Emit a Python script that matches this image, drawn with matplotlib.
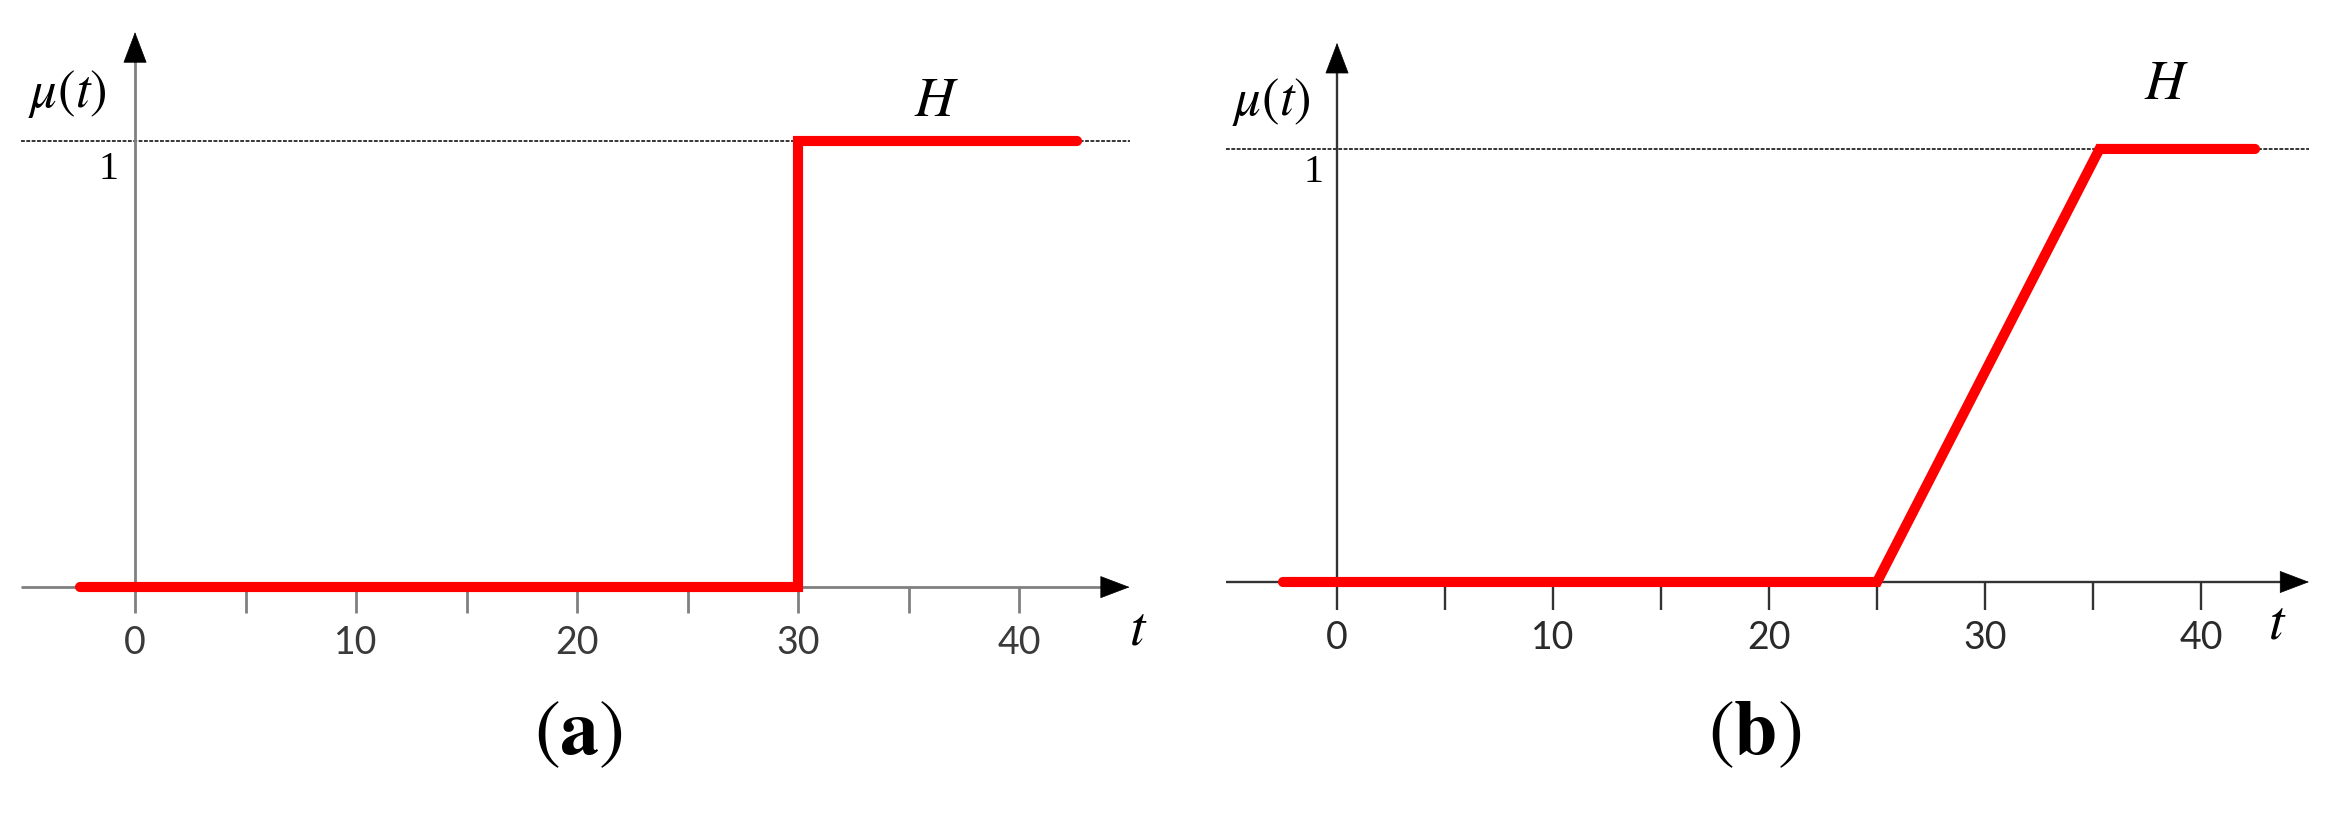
import matplotlib
matplotlib.use('Agg')
import matplotlib.pyplot as plt

plt.rcParams['mathtext.fontset'] = 'stix'

# ---- data ----
t_a = [-2.5, 30, 30, 42.6]
mu_a = [0, 0, 1, 1]
t_b = [-2.5, 25, 35.3, 42.5]
mu_b = [0, 0, 1, 1]
tick_vals = [0, 5, 10, 15, 20, 25, 30, 35, 40]
tick_labels = ['0', '', '10', '', '20', '', '30', '', '40']
panel_labels = ['a', 'b']

fig = plt.figure(figsize=(23.44, 8.25), dpi=100)


def panel(rect, xlim, ylim, t, mu, axis_col, lab_col, axis_lw, tick_len,
          h_pos, mu_pos, one_pos, tlab_pos, ticklab_y, ytip):
    ax = fig.add_axes(rect)
    ax.set_xlim(*xlim)
    ax.set_ylim(*ylim)
    ax.axis('off')
    x0, x1 = -5.15, 45.0
    # dotted level line at 1
    ax.plot([x0, x1], [1, 1], color='black', lw=1.1, ls=(0, (2.5, 1.0)), zorder=1)
    # x axis line + arrow head
    ax.plot([x0, x1 - 1.0], [0, 0], color=axis_col, lw=axis_lw,
            solid_capstyle='butt', zorder=2)
    ax.annotate('', xy=(x1, 0), xytext=(x1 - 1.3, 0),
                arrowprops=dict(arrowstyle='-|>,head_length=1.0,head_width=0.38',
                                mutation_scale=20, color='black', lw=0.5,
                                shrinkA=0, shrinkB=0), zorder=3)
    # y axis line + arrow head
    ax.plot([0, 0], [0, ytip - 0.05], color=axis_col, lw=axis_lw,
            solid_capstyle='butt', zorder=2)
    ax.annotate('', xy=(0, ytip), xytext=(0, ytip - 0.068),
                arrowprops=dict(arrowstyle='-|>,head_length=1.0,head_width=0.38',
                                mutation_scale=21, color='black', lw=0.5,
                                shrinkA=0, shrinkB=0), zorder=3)
    # ticks
    ax.vlines(tick_vals, -tick_len, 0, color=axis_col, lw=axis_lw, zorder=2)
    for tv, tl in zip(tick_vals, tick_labels):
        if tl:
            ax.text(tv, ticklab_y, tl, ha='center', va='center', fontsize=27,
                    family='Lato', color=lab_col)
    # membership function
    ax.plot(t, mu, color='#ff0000', lw=7.3, solid_capstyle='round',
            solid_joinstyle='miter', zorder=4)
    # labels
    ax.text(*h_pos, r'$H$', ha='center', va='center', fontsize=40)
    ax.text(*mu_pos, r'$\mu(t)$', ha='center', va='center', fontsize=38)
    ax.text(*one_pos, '1', ha='center', va='center', fontsize=29,
            family='Liberation Serif')
    ax.text(*tlab_pos, r'$t$', ha='center', va='center', fontsize=40)
    return ax


panel([0.0, 125 / 825, 0.5, 700 / 825], (-6.11, 46.92), (-0.253, 1.316),
      t_a, mu_a, '#808080', '#3a3a3a', 2.0, 0.058,
      (36.25, 1.09), (-3.05, 1.105), (-1.18, 0.935), (45.4, -0.096), -0.125, 1.244)

panel([0.5, 125 / 825, 0.5, 700 / 825], (-7.64, 46.62), (-0.2725, 1.344),
      t_b, mu_b, '#333333', '#2a2a2a', 1.7, 0.065,
      (38.4, 1.15), (-3.05, 1.108), (-1.11, 0.945), (43.55, -0.095), -0.13, 1.245)

for xc, lab in zip([578 / 2344, 1755 / 2344], panel_labels):
    fig.text(xc, 1 - 732 / 825, r'$(\mathbf{%s})$' % lab, ha='center', va='center',
             fontsize=56)

fig.savefig('out.png', dpi=100, facecolor='white')
